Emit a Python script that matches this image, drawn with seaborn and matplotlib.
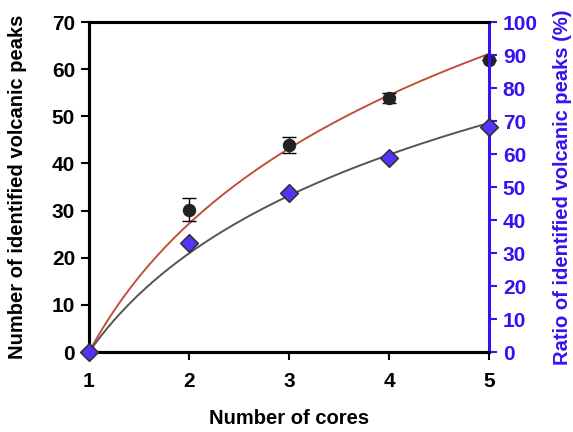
import numpy as np
import pandas as pd
import matplotlib
matplotlib.use("Agg")
import matplotlib.pyplot as plt
import seaborn as sns

# Data
cores = [1, 2, 3, 4, 5]
peaks = [0, 30.2, 44.0, 53.8, 62.0]
peaks_err = [0, 2.45, 1.7, 1.05, 0]
ratio = [0, 33.0, 48.2, 58.9, 68.3]
xticks = [1, 2, 3, 4, 5]
left_ticks = [0, 10, 20, 30, 40, 50, 60, 70]
right_ticks = [0, 10, 20, 30, 40, 50, 60, 70, 80, 90, 100]

sns.set_theme(style="white")
plt.rcParams['font.family'] = ['Liberation Sans', 'DejaVu Sans']
plt.rcParams['font.weight'] = 'bold'
plt.rcParams['text.color'] = 'black'
plt.rcParams['axes.labelcolor'] = 'black'
plt.rcParams['xtick.color'] = 'black'
plt.rcParams['ytick.color'] = 'black'

BLUE = "#3a10f0"
RED = "#c0503a"
GRAY = "#555555"

fig = plt.figure(figsize=(5.73, 4.32), dpi=100)
ax = fig.add_axes([0.1553, 0.185, 0.698, 0.764])
ax2 = ax.twinx()

# log fits through (1,0)
x = np.array(cores, dtype=float)
lx = np.log(x)
a_peaks = np.sum(lx * np.array(peaks)) / np.sum(lx * lx)
a_ratio = np.sum(lx * np.array(ratio)) / np.sum(lx * lx)
xs = np.linspace(1, 5, 200)
fit1 = pd.DataFrame({"x": xs, "y": a_peaks * np.log(xs)})
fit2 = pd.DataFrame({"x": xs, "y": a_ratio * np.log(xs)})

sns.lineplot(data=fit1, x="x", y="y", ax=ax, color=RED, lw=1.4, zorder=2)
ax.errorbar(cores, peaks, yerr=peaks_err, fmt="none", ecolor="black",
            elinewidth=1.0, capsize=5, capthick=1.0, zorder=3)
sns.scatterplot(x=cores, y=peaks, ax=ax, color="#222222", s=80,
                edgecolor="#222222", zorder=4)

sns.lineplot(data=fit2, x="x", y="y", ax=ax2, color=GRAY, lw=1.4, zorder=2)
sns.scatterplot(x=cores, y=ratio, ax=ax2, color="#5533ff", marker="D", s=80,
                edgecolor="#333333", linewidth=1.2, zorder=4)

ax.set_xlim(1, 5)
ax.set_ylim(0, 70)
ax2.set_ylim(0, 100)
ax.set_xticks(xticks)
ax.set_xticklabels([str(t) for t in xticks])
ax.set_yticks(left_ticks)
ax.set_yticklabels([str(t) for t in left_ticks])
ax2.set_yticks(right_ticks)
ax2.set_yticklabels([str(t) for t in right_ticks])

for a in (ax, ax2):
    for s in a.spines.values():
        s.set_linewidth(2.2)
        s.set_color("black")
    a.set_xlabel("")
    a.set_ylabel("")
ax2.spines["right"].set_color(BLUE)
ax.spines["right"].set_visible(False)

ax.tick_params(axis="both", direction="out", length=6, width=1.5,
               labelsize=15, colors="black", pad=4)
ax.tick_params(axis="x", pad=8)
ax2.tick_params(axis="y", direction="out", length=6, width=1.5,
                labelsize=15, colors=BLUE, pad=4)
ax.tick_params(axis="y", left=True)
ax.tick_params(axis="x", bottom=True)
for lab in ax.get_xticklabels() + ax.get_yticklabels():
    lab.set_fontweight("bold")
for lab in ax2.get_yticklabels():
    lab.set_fontweight("bold")

ax.set_xlabel("Number of cores", fontsize=14.5, fontweight="bold", labelpad=13)
ax.set_ylabel("Number of identified volcanic peaks", fontsize=14.5,
              fontweight="bold", labelpad=18)
ax2.set_ylabel("Ratio of identified volcanic peaks (%)", fontsize=14.5,
               fontweight="bold", color=BLUE, labelpad=11)

for a in (ax, ax2):
    for c in a.collections:
        c.set_clip_on(False)
    for l in a.lines:
        l.set_clip_on(False)

fig.savefig("out.png", dpi=100)
